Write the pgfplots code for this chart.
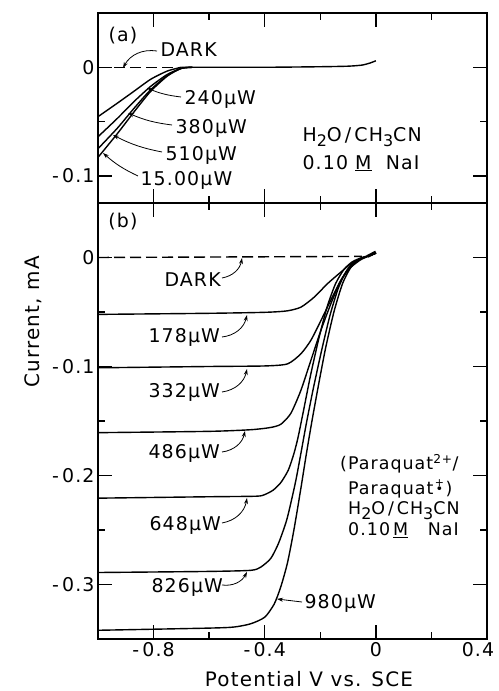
\documentclass[border=0pt]{standalone}
\usepackage{fontspec}
\setmainfont{DejaVu Sans}[LetterSpace=6]
\usepackage{pgfplots}
\pgfplotsset{compat=1.18}
\usetikzlibrary{arrows.meta}

\newcommand{\lab}{\fontsize{19}{22}\selectfont}
\newcommand{\sub}[1]{\raisebox{-0.3em}{\fontsize{16}{16}\selectfont #1}}
\newcommand{\rad}{\hspace{0.35em}\makebox[0pt]{\raisebox{0.5em}{\fontsize{11}{11}\selectfont +}}\makebox[0pt]{\raisebox{0.1em}{\fontsize{13}{13}\selectfont •}}\hspace{0.35em}}

\pgfplotsset{
  panel/.style={
    scale only axis, width=389bp, xmin=-1, xmax=0.4,
    axis line style={line width=1.8bp},
    major tick length=14bp, minor tick length=7bp,
    tick style={line width=1.4bp, black},
    xtick={-0.8,-0.4,0,0.4}, minor xtick={-0.6,-0.2,0.2},
    ticklabel style={font=\fontsize{19}{23}\selectfont},
    /pgf/number format/assume math mode=true,
    cycle list={black,solid,line width=1.4bp\\},
    every axis plot/.append style={no marks, smooth, tension=0.4},
  },
  dark/.style={dash pattern=on 11bp off 5bp, line width=1.4bp, black, no marks},
}

\begin{document}
\begin{tikzpicture}[x=1bp,y=1bp,
  arr/.style={-{Stealth[length=6bp,width=4bp]}, line width=0.8bp}]
\useasboundingbox (0,0) rectangle (499,691);

% ---- panel (a)
\begin{axis}[panel, at={(98bp,488bp)}, anchor=south west, height=190bp,
  ymin=-0.125, ymax=0.05, ytick={-0.1,0}, yticklabels={-\,0.1,0},
  minor ytick={-0.05}, xticklabels={}]
\addplot[dark] coordinates {(-1,0) (-0.7,0)};
\addplot coordinates {(-0.70,0) (-0.4,0) (-0.2,0.0005) (-0.1,0.001) (-0.05,0.002) (-0.02,0.004) (0,0.006)};
% 240 uW
\addplot coordinates {(-1.0,-0.0455) (-0.93,-0.033) (-0.87,-0.022) (-0.81,-0.011) (-0.75,-0.0034) (-0.70,0)};
% 380 uW
\addplot coordinates {(-1.0,-0.064) (-0.93,-0.047) (-0.87,-0.0315) (-0.81,-0.0175) (-0.75,-0.0065) (-0.70,-0.001) (-0.66,0)};
% 510 uW
\addplot coordinates {(-1.0,-0.075) (-0.93,-0.056) (-0.87,-0.0377) (-0.81,-0.0206) (-0.75,-0.0075) (-0.70,-0.001) (-0.66,0)};
% 1500 uW
\addplot coordinates {(-1.0,-0.083) (-0.93,-0.061) (-0.87,-0.041) (-0.81,-0.022) (-0.75,-0.008) (-0.70,-0.001) (-0.66,0)};
\end{axis}

% ---- panel (b)
\begin{axis}[panel, at={(98bp,52bp)}, anchor=south west, height=436bp,
  ymin=-0.35, ymax=0.05, ytick={-0.3,-0.2,-0.1,0},
  yticklabels={-\,0.3,-\,0.2,-\,0.1,0},
  minor ytick={-0.25,-0.15,-0.05},
  xticklabels={-\,0.8,-\,0.4,0,\hspace*{-18bp}0.4}]
\addplot[dark] coordinates {(-1,0) (-0.05,0.001)};
% 178 uW
\addplot coordinates {(-1.0,-0.0522) (-0.6,-0.0512) (-0.40,-0.0503) (-0.32,-0.049) (-0.27,-0.0456) (-0.222,-0.0364) (-0.174,-0.024) (-0.126,-0.0134) (-0.09,-0.0058) (-0.054,-0.001) (-0.02,0.002) (0,0.004)};
% 332 uW
\addplot coordinates {(-1.0,-0.1012) (-0.6,-0.100) (-0.40,-0.0995) (-0.318,-0.0976) (-0.27,-0.0884) (-0.234,-0.076) (-0.198,-0.058) (-0.162,-0.039) (-0.126,-0.021) (-0.09,-0.009) (-0.054,-0.002) (-0.02,0.002) (0,0.004)};
% 486 uW
\addplot coordinates {(-1.0,-0.1607) (-0.6,-0.1595) (-0.45,-0.158) (-0.38,-0.156) (-0.342,-0.153) (-0.306,-0.143) (-0.27,-0.122) (-0.234,-0.0945) (-0.198,-0.067) (-0.162,-0.0425) (-0.126,-0.021) (-0.09,-0.0073) (-0.054,-0.001) (-0.02,0.002) (0,0.004)};
% 648 uW
\addplot coordinates {(-1,-0.2208) (-0.6,-0.2195) (-0.43,-0.219) (-0.40,-0.2175) (-0.37,-0.2135) (-0.342,-0.2065) (-0.315,-0.195) (-0.295,-0.18) (-0.28,-0.165) (-0.26,-0.14) (-0.235,-0.108) (-0.205,-0.074) (-0.175,-0.045) (-0.145,-0.024) (-0.115,-0.011) (-0.085,-0.004) (-0.05,0.000) (-0.02,0.002) (0,0.004)};
% 826 uW
\addplot coordinates {(-1,-0.289) (-0.6,-0.288) (-0.45,-0.287) (-0.414,-0.284) (-0.378,-0.276) (-0.35,-0.262) (-0.32,-0.24) (-0.29,-0.207) (-0.27,-0.18) (-0.25,-0.152) (-0.225,-0.12) (-0.195,-0.085) (-0.165,-0.053) (-0.135,-0.028) (-0.105,-0.012) (-0.075,-0.004) (-0.045,0.000) (-0.02,0.002) (0,0.004)};
% 980 uW
\addplot coordinates {(-1,-0.342) (-0.6,-0.340) (-0.51,-0.339) (-0.45,-0.336) (-0.40,-0.330) (-0.366,-0.318) (-0.342,-0.302) (-0.318,-0.28) (-0.295,-0.25) (-0.27,-0.212) (-0.25,-0.18) (-0.23,-0.15) (-0.205,-0.115) (-0.18,-0.082) (-0.15,-0.049) (-0.12,-0.024) (-0.09,-0.009) (-0.06,-0.002) (-0.03,0.001) (0,0.004)};
% end blob
\addplot[black, line width=3bp] coordinates {(-0.03,0.001) (-0.015,0.003) (0,0.005)};
\end{axis}

% ---- labels, panel (a)
\node[font=\lab] at (123,655) {(a)};
\node[font=\lab, anchor=west] at (157,641) {DARK};
\draw[arr] (157,640) to[bend right=35] (123,623);
\node[font=\lab, anchor=west] at (181,592) {240µW};
\draw[arr] (181,594) to[bend left=8] (147,603);
\node[font=\lab, anchor=west] at (172,563) {380µW};
\draw[arr] (172,566) to[bend left=8] (128,578);
\node[font=\lab, anchor=west] at (162,536) {510µW};
\draw[arr] (162,539) to[bend left=8] (113,556);
\node[font=\lab, anchor=west] at (137,511) {15.00µW};
\draw[arr] (138,515) to[bend left=8] (103,538);
\node[font=\lab, anchor=west] at (299,554) {H\sub{2}O\,/\,CH\sub{3}CN};
\node[font=\lab, anchor=west] at (299,528) {0.10 \underline{M} \ NaI};

% ---- labels, panel (b)
\node[font=\lab] at (123,469) {(b)};
\node[font=\lab, anchor=west] at (161,411) {DARK};
\draw[arr] (222,413) to[bend right=35] (242,433);
\node[font=\lab, anchor=west] at (145,354) {178µW};
\draw[arr] (222,354) to[bend right=35] (247,376);
\node[font=\lab, anchor=west] at (145,299) {332µW};
\draw[arr] (222,299) to[bend right=35] (247,322);
\node[font=\lab, anchor=west] at (145,238) {486µW};
\draw[arr] (222,239) to[bend right=35] (245,260);
\node[font=\lab, anchor=west] at (146,166) {648µW};
\draw[arr] (222,168) to[bend right=35] (247,193);
\node[font=\lab, anchor=west] at (148,104) {826µW};
\draw[arr] (222,106) to[bend right=35] (247,119);
\node[font=\lab, anchor=west] at (301,88) {980µW};
\draw[arr] (302,89) -- (277,92);

\begin{scope}[every node/.style={anchor=west, inner sep=0pt, font=\fontsize{17.5}{20}\selectfont}]
\node at (340,227) {(Paraquat\textsuperscript{2+}/};
\node at (348,202) {Paraquat\rad)};
\node at (348,180) {H\sub{2}O\,/\,CH\sub{3}CN};
\node at (348,161) {0.10\,\underline{M} \ \ NaI};
\end{scope}

% ---- axis titles
\node[rotate=90, font=\fontsize{20}{24}\selectfont] at (33,369) {Current, mA};
\node[font=\fontsize{20}{24}\selectfont] at (309,12) {Potential V vs. SCE};
\end{tikzpicture}
\end{document}
